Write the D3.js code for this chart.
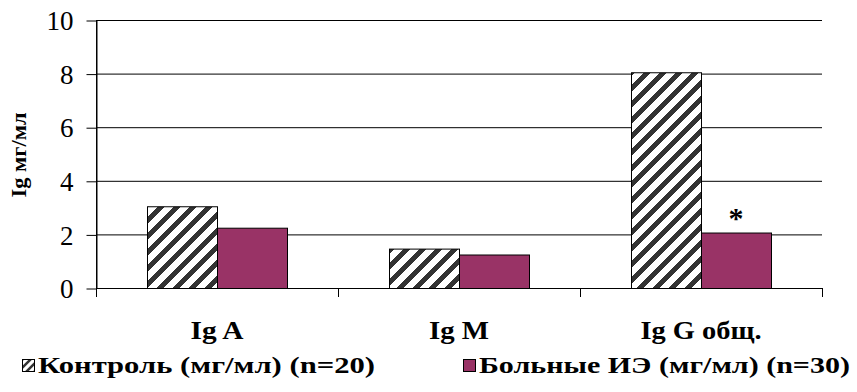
<!DOCTYPE html>
<html><head><meta charset="utf-8">
<script src="https://cdn.jsdelivr.net/npm/d3@7"></script>
<style>body{margin:0;background:#fff}svg{display:block}
text{font-family:"Liberation Serif","Tinos","Nimbus Roman","Nimbus Roman No9 L","FreeSerif","Times New Roman","Times","DejaVu Serif",serif;}</style>
</head><body>
<script>
const categories = ["Ig A", "Ig M", "Ig G общ."];
const seriesNames = ["Контроль (мг/мл) (n=20)", "Больные ИЭ (мг/мл) (n=30)"];
const controlValues = [3.05, 1.47, 8.05];
const patientValues = [2.25, 1.25, 2.07];
const yTicks = [0, 2, 4, 6, 8, 10];
const yTitle = "Ig мг/мл";
const markers = [{cat: 2, series: 1, text: "*"}];

(function(){
const W = 857, H = 392;
const svg = d3.select("body").append("svg").attr("width", W).attr("height", H);
const defs = svg.append("defs");
const pat = defs.append("pattern").attr("id","hatch").attr("patternUnits","userSpaceOnUse")
  .attr("width",16).attr("height",16);
pat.append("rect").attr("width",16).attr("height",16).attr("fill","#fff");
pat.append("path").attr("d","M-4,4 L4,-4 M0,16 L16,0 M12,20 L20,12")
  .attr("stroke","#333").attr("stroke-width",4.5).attr("shape-rendering","crispEdges");
const pat2 = defs.append("pattern").attr("id","hatchS").attr("patternUnits","userSpaceOnUse")
  .attr("width",8).attr("height",8);
pat2.append("rect").attr("width",8).attr("height",8).attr("fill","#fff");
pat2.append("path").attr("d","M-2,2 L2,-2 M0,8 L8,0 M6,10 L10,6").attr("stroke","#333").attr("stroke-width",2.5);

const mLeft = 96, mRight = 822, mTop = 20, mBottom = 288;
const x = d3.scaleBand().domain(categories).range([mLeft, mRight]);
const xs = d3.scaleBand().domain([0,1]).range([0, 140]);
const y = d3.scaleLinear().domain([0, 10]).range([mBottom, mTop]);

svg.append("g").selectAll("line").data(yTicks.filter(d=>d>0)).join("line")
  .attr("x1", mLeft).attr("x2", mRight).attr("y1", d=>y(d)+0.5).attr("y2", d=>y(d)+0.5)
  .attr("stroke", "#000").attr("stroke-width", 1);

const fills = ["url(#hatch)", "#993366"];
const data = [controlValues, patientValues];
data.forEach((vals, s) => {
  svg.append("g").selectAll("rect").data(vals).join("rect")
    .attr("x", (d,i)=> x(categories[i]) + x.bandwidth()/2 - 70 + xs(s) + 0.5)
    .attr("width", xs.bandwidth())
    .attr("y", d=>y(d)+0.5)
    .attr("height", d=>mBottom - y(d))
    .attr("fill", fills[s]).attr("stroke", "#000").attr("stroke-width", 1);
});

const yAxis = d3.axisLeft(y).tickValues(yTicks).tickSize(10).tickPadding(13).tickSizeOuter(0);
const gy = svg.append("g").attr("transform", `translate(${mLeft+0.5},0.5)`).call(yAxis);
gy.attr("font-family", null);
gy.selectAll("text").attr("font-size",27).attr("fill","#000").attr("dy","0.34em")
  .attr("font-weight","normal");
gy.selectAll("line,path").attr("stroke","#000");
const bounds = [mLeft, ...categories.map(c=>x(c)+x.bandwidth())];
svg.append("g").selectAll("line").data(bounds).join("line")
  .attr("x1",d=>Math.round(d)+0.5).attr("x2",d=>Math.round(d)+0.5).attr("y1",mBottom).attr("y2",mBottom+9)
  .attr("stroke","#000");
svg.append("line").attr("x1",mLeft).attr("x2",mRight+1).attr("y1",mBottom+0.5).attr("y2",mBottom+0.5).attr("stroke","#000");
svg.append("line").attr("x1",mLeft+0.5).attr("x2",mLeft+0.5).attr("y1",mTop).attr("y2",mBottom+9).attr("stroke","#000");

const catW = [53, 60, 121];
svg.append("g").selectAll("text").data(categories).join("text")
  .attr("x", d=>x(d)+x.bandwidth()/2).attr("y", 339)
  .attr("text-anchor","middle")
  .attr("font-weight","bold").attr("font-size",25)
  .attr("textLength",(d,i)=>catW[i]).attr("lengthAdjust","spacingAndGlyphs").text(d=>d);

svg.append("text").attr("transform","translate(26,155) rotate(-90)")
  .attr("text-anchor","middle")
  .attr("font-weight","bold").attr("font-size",20)
  .attr("textLength",85).attr("lengthAdjust","spacingAndGlyphs").text(yTitle);

markers.forEach(m=>{
  const v = data[m.series][m.cat];
  svg.append("text")
    .attr("x", x(categories[m.cat]) + x.bandwidth()/2 - 70 + xs(m.series) + xs.bandwidth()/2)
    .attr("y", y(v) - 5).attr("text-anchor","middle")
    .attr("font-weight","bold").attr("font-size",30).text(m.text);
});

const legX = [22, 463];
const legW = [337, 371];
seriesNames.forEach((n,i)=>{
  const g = svg.append("g").attr("transform",`translate(${legX[i]},0)`);
  g.append("rect").attr("x",0.5).attr("y",359.5).attr("width",12).attr("height",12)
    .attr("fill", i===0 ? "url(#hatchS)" : fills[1]).attr("stroke","#000");
  g.append("text").attr("x",16).attr("y",373)
    .attr("font-weight","bold").attr("font-size",23)
    .attr("textLength",legW[i]).attr("lengthAdjust","spacingAndGlyphs").text(n);
});
})();
</script>
</body></html>
